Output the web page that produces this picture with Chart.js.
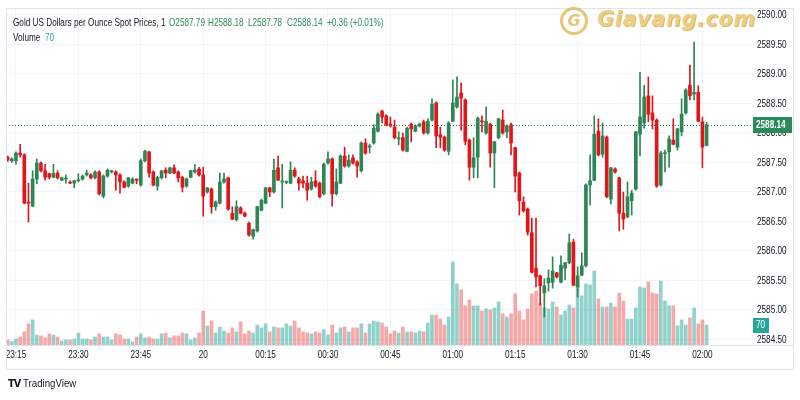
<!DOCTYPE html>
<html lang="en">
<head>
  <meta charset="UTF-8">
  <title>Gold US Dollars per Ounce Spot Prices, 1</title>
  <script src="https://cdn.jsdelivr.net/npm/chart.js"></script>
  <style>
    body { margin: 0; background: #fff; font-family: "Liberation Sans", sans-serif; }
    #wrap { position: relative; width: 800px; height: 400px; overflow: hidden; }
    #chart { position: absolute; left: 0; top: 0; }
    #frame { position: absolute; left: 6px; top: 8px; width: 788px; height: 362px; border: 1px solid #e0e3eb; box-sizing: border-box; pointer-events: none; }
    .txt { position: absolute; font-size: 10.5px; color: #131722; white-space: nowrap; line-height: 12px;
      transform: scaleX(0.78); transform-origin: 0 50%; }
    .up { color: #2e8b57; }
    .teal { color: #26a69a; }
    #logo { position: absolute; left: 560px; top: 6px; height: 30px; white-space: nowrap; opacity: .8; }
    #logo .coin { position: absolute; left: 0; top: 1px; width: 28px; height: 28px; border-radius: 50%; border: 3px solid #dfb950; box-sizing: border-box;
      font: italic bold 16px "DejaVu Sans", sans-serif; color: #dfb950; text-align: center; line-height: 22px; }
    #logo .brand { position: absolute; left: 37px; top: 1px; font: italic bold 21px "DejaVu Sans", sans-serif; color: #e8c466; letter-spacing: 0.5px;
      text-shadow: 1px 1px 0 #d6a63a; }
    #tv { position: absolute; left: 8px; top: 377px; font-size: 11px; color: #131722; white-space: nowrap; transform: scaleX(0.88); transform-origin: 0 50%; }
    #tv b { font-family: "DejaVu Sans", sans-serif; font-size: 11px; letter-spacing: -1px; margin-right: 3px; }
  </style>
</head>
<body>
<div id="wrap">
  <canvas id="chart" width="800" height="400"></canvas>
  <div id="frame"></div>

  <div class="txt" style="left:13px; top:16px;">Gold US Dollars per Ounce Spot Prices, 1</div>
  <div class="txt up" style="left:169px; top:16px;">O2587.79</div>
  <div class="txt up" style="left:208px; top:16px;">H2588.18</div>
  <div class="txt up" style="left:248px; top:16px;">L2587.78</div>
  <div class="txt up" style="left:287px; top:16px;">C2588.14</div>
  <div class="txt up" style="left:327px; top:16px;">+0.36 (+0.01%)</div>
  <div class="txt" style="left:13px; top:31px;">Volume</div>
  <div class="txt teal" style="left:45px; top:31px;">70</div>

  <div id="logo"><span class="coin">G</span><span class="brand">Giavang.com</span></div>
  <div id="tv"><b>TV</b>TradingView</div>
</div>

<script>
  // 1-minute candles, 23:13 -> 02:01
  const startTime = "23:13";
  const candleCount = 169;

  const opens = [
    2587.59, 2587.53, 2587.53, 2587.66, 2587.63, 2586.83, 2586.76,
    2587.22, 2587.49, 2587.36, 2587.31, 2587.25, 2587.32, 2587.20, 2587.22, 2587.17, 2587.15,
    2587.19, 2587.22, 2587.29, 2587.29, 2587.24, 2587.34, 2586.93, 2587.27, 2587.34, 2587.34,
    2587.29, 2587.17, 2587.10, 2587.15, 2587.22, 2587.12, 2587.53, 2587.68, 2587.34, 2587.10,
    2587.24, 2587.37, 2587.32, 2587.41, 2587.34, 2587.25, 2587.10, 2587.25, 2587.34, 2587.39,
    2587.29, 2587.00, 2587.05, 2586.75, 2586.81, 2587.17, 2587.24, 2586.64, 2586.53, 2586.73,
    2586.64, 2586.47, 2586.25, 2586.34, 2586.69, 2586.81, 2587.07, 2587.00, 2587.41, 2587.17,
    2587.16, 2587.15, 2587.37, 2587.22, 2587.19, 2587.15, 2587.05, 2587.19, 2587.15, 2586.97,
    2587.49, 2587.56, 2586.97, 2587.15, 2587.61, 2587.44, 2587.58, 2587.51, 2587.36, 2587.83,
    2587.76, 2587.83, 2588.03, 2588.37, 2588.29, 2588.15, 2588.10, 2587.90, 2587.92, 2587.69,
    2588.15, 2588.03, 2588.12, 2588.19, 2588.00, 2588.22, 2588.51, 2587.97, 2587.93, 2587.69,
    2588.20, 2588.44, 2588.68, 2588.56, 2587.88, 2587.42, 2587.59, 2588.20, 2588.00, 2588.15,
    2587.66, 2587.92, 2588.22, 2588.02, 2588.14, 2587.75, 2587.32, 2586.83, 2586.71, 2586.31,
    2585.71, 2585.58, 2585.29, 2585.46, 2585.47, 2585.63, 2585.47, 2585.71, 2585.80, 2586.15,
    2585.39, 2585.59, 2585.75, 2587.12, 2587.20, 2588.03, 2587.64, 2587.93, 2586.88, 2587.39,
    2587.24, 2586.64, 2586.58, 2586.85, 2587.05, 2587.98, 2588.17, 2588.63, 2588.34, 2588.22,
    2587.12, 2587.65, 2587.68, 2587.88, 2587.76, 2588.02, 2588.34, 2588.81, 2588.66, 2588.69,
    2588.19, 2587.79
  ];

  const highs = [
    2587.61, 2587.58, 2587.68, 2587.81, 2587.65, 2587.15, 2587.36,
    2587.56, 2587.51, 2587.47, 2587.32, 2587.47, 2587.36, 2587.25, 2587.29, 2587.19, 2587.20,
    2587.31, 2587.29, 2587.37, 2587.31, 2587.36, 2587.36, 2587.29, 2587.39, 2587.37, 2587.36,
    2587.31, 2587.19, 2587.25, 2587.24, 2587.22, 2587.56, 2587.71, 2587.69, 2587.36, 2587.27,
    2587.37, 2587.41, 2587.42, 2587.46, 2587.36, 2587.27, 2587.24, 2587.37, 2587.47, 2587.42,
    2587.42, 2587.08, 2587.07, 2586.85, 2587.32, 2587.32, 2587.25, 2586.75, 2586.85, 2586.75,
    2586.66, 2586.49, 2586.37, 2586.76, 2586.88, 2587.08, 2587.08, 2587.56, 2587.61, 2587.47,
    2587.19, 2587.51, 2587.41, 2587.25, 2587.27, 2587.27, 2587.25, 2587.36, 2587.17, 2587.49,
    2587.68, 2587.58, 2587.39, 2587.63, 2587.76, 2587.63, 2587.63, 2587.53, 2587.85, 2587.90,
    2587.81, 2588.14, 2588.34, 2588.39, 2588.31, 2588.27, 2588.22, 2588.02, 2588.00, 2588.10,
    2588.17, 2588.14, 2588.17, 2588.22, 2588.24, 2588.58, 2588.53, 2588.10, 2587.95, 2588.19,
    2588.90, 2588.95, 2588.85, 2588.58, 2587.90, 2587.92, 2588.27, 2588.29, 2588.44, 2588.17,
    2587.86, 2588.25, 2588.39, 2588.14, 2588.17, 2587.76, 2587.34, 2586.92, 2586.73, 2586.56,
    2586.56, 2585.59, 2585.53, 2585.68, 2585.90, 2585.64, 2585.92, 2585.81, 2586.29, 2586.20,
    2585.73, 2585.97, 2587.14, 2587.63, 2588.29, 2588.24, 2588.17, 2587.95, 2587.42, 2587.41,
    2587.25, 2587.00, 2587.17, 2587.03, 2588.03, 2589.03, 2588.81, 2588.95, 2588.63, 2588.24,
    2587.69, 2587.71, 2587.95, 2588.24, 2588.08, 2588.58, 2588.75, 2589.15, 2589.54, 2588.80,
    2588.27, 2588.18
  ];

  const lows = [
    2587.52, 2587.50, 2587.47, 2587.59, 2586.80, 2586.49, 2586.75,
    2587.14, 2587.34, 2587.20, 2587.22, 2587.24, 2587.22, 2587.19, 2587.15, 2587.14, 2587.07,
    2587.17, 2587.20, 2587.27, 2587.22, 2587.22, 2586.95, 2586.90, 2587.25, 2587.32, 2587.03,
    2586.98, 2587.07, 2587.08, 2587.14, 2587.14, 2587.10, 2587.51, 2587.25, 2587.10, 2587.03,
    2587.22, 2587.24, 2587.31, 2587.31, 2587.17, 2587.00, 2587.08, 2587.24, 2587.32, 2587.27,
    2586.59, 2586.98, 2586.64, 2586.69, 2586.80, 2587.15, 2586.69, 2586.53, 2586.51, 2586.63,
    2586.58, 2586.25, 2586.20, 2586.32, 2586.68, 2586.80, 2586.92, 2586.98, 2587.19, 2586.73,
    2587.14, 2587.14, 2587.25, 2587.03, 2587.07, 2586.86, 2587.03, 2587.08, 2586.90, 2586.95,
    2587.47, 2586.76, 2586.95, 2587.14, 2587.42, 2587.42, 2587.47, 2587.25, 2587.34, 2587.64,
    2587.66, 2587.81, 2588.02, 2588.17, 2588.12, 2588.10, 2587.90, 2587.80, 2587.69, 2587.68,
    2587.85, 2588.02, 2588.10, 2587.98, 2587.98, 2588.20, 2587.75, 2587.75, 2587.69, 2587.63,
    2588.19, 2588.42, 2588.05, 2587.80, 2587.20, 2587.24, 2587.24, 2588.02, 2587.98, 2587.42,
    2587.07, 2587.90, 2587.98, 2587.92, 2587.63, 2587.00, 2586.61, 2586.66, 2586.27, 2585.63,
    2585.39, 2585.08, 2584.88, 2585.32, 2585.37, 2585.54, 2585.46, 2585.51, 2585.78, 2585.41,
    2585.22, 2585.58, 2585.73, 2586.78, 2587.19, 2587.61, 2587.59, 2586.90, 2586.80, 2587.32,
    2586.34, 2586.37, 2586.56, 2586.61, 2587.03, 2587.61, 2588.08, 2588.19, 2588.07, 2587.08,
    2587.10, 2587.34, 2587.42, 2587.80, 2587.71, 2587.95, 2588.32, 2588.56, 2588.56, 2588.19,
    2587.41, 2587.78
  ];

  const closes = [
    2587.54, 2587.56, 2587.66, 2587.63, 2586.81, 2586.81, 2587.22,
    2587.49, 2587.36, 2587.25, 2587.25, 2587.32, 2587.24, 2587.24, 2587.23, 2587.15, 2587.19,
    2587.20, 2587.27, 2587.32, 2587.24, 2587.34, 2586.97, 2587.27, 2587.37, 2587.36, 2587.29,
    2587.17, 2587.08, 2587.24, 2587.22, 2587.20, 2587.53, 2587.69, 2587.32, 2587.12, 2587.25,
    2587.36, 2587.32, 2587.41, 2587.32, 2587.24, 2587.08, 2587.22, 2587.36, 2587.37, 2587.29,
    2586.93, 2587.07, 2586.75, 2586.83, 2587.17, 2587.22, 2586.71, 2586.54, 2586.75, 2586.64,
    2586.59, 2586.27, 2586.36, 2586.75, 2586.86, 2587.07, 2587.00, 2587.37, 2587.20, 2587.18,
    2587.17, 2587.37, 2587.27, 2587.15, 2587.15, 2587.03, 2587.17, 2587.10, 2586.92, 2587.47,
    2587.56, 2586.97, 2587.17, 2587.61, 2587.44, 2587.54, 2587.49, 2587.44, 2587.83, 2587.66,
    2587.78, 2588.08, 2588.32, 2588.27, 2588.14, 2588.12, 2587.92, 2587.92, 2587.71, 2588.08,
    2588.07, 2588.12, 2588.15, 2588.00, 2588.20, 2588.49, 2587.95, 2587.93, 2587.71, 2588.17,
    2588.51, 2588.61, 2588.59, 2587.86, 2587.42, 2587.58, 2588.25, 2588.19, 2588.20, 2587.66,
    2587.85, 2588.24, 2588.00, 2588.12, 2587.83, 2587.27, 2586.85, 2586.68, 2586.32, 2585.64,
    2585.56, 2585.41, 2585.41, 2585.54, 2585.66, 2585.56, 2585.76, 2585.80, 2586.14, 2585.42,
    2585.58, 2585.75, 2587.12, 2587.19, 2587.98, 2587.63, 2587.95, 2586.92, 2587.41, 2587.34,
    2586.64, 2586.54, 2586.92, 2586.98, 2588.02, 2588.27, 2588.61, 2588.32, 2588.22, 2587.10,
    2587.66, 2587.66, 2587.90, 2587.81, 2588.07, 2588.32, 2588.73, 2588.63, 2588.69, 2588.20,
    2587.76, 2588.14
  ];

  const volumes = [
    18, 12, 21, 28, 46, 74, 88,
    35, 32, 25, 39, 35, 28, 14, 18, 18, 21,
    42, 21, 21, 18, 28, 39, 28, 28, 18, 39,
    35, 21, 21, 11, 28, 39, 25, 28, 21, 21,
    39, 42, 25, 32, 32, 42, 39, 18, 25, 42,
    119, 67, 84, 42, 63, 49, 42, 60, 46, 81,
    39, 49, 42, 70, 60, 74, 46, 63, 60, 60,
    74, 67, 84, 60, 46, 42, 39, 46, 42, 53,
    35, 70, 42, 60, 63, 46, 60, 60, 74, 42,
    74, 84, 81, 77, 63, 39, 49, 42, 63, 46,
    46, 42, 49, 46, 77, 105, 105, 91, 70, 98,
    291, 214, 193, 137, 158, 137, 137, 119, 126, 123,
    130, 151, 109, 98, 109, 179, 119, 88, 126, 179,
    189, 147, 130, 126, 151, 133, 105, 119, 140, 130,
    214, 172, 214, 210, 259, 161, 133, 133, 147, 133,
    182, 154, 91, 91, 130, 203, 200, 221, 182, 179,
    224, 154, 137, 137, 67, 88, 70, 95, 130, 74,
    88, 70
  ];

  const priceTicks = { min: 2584.4067, max: 2590.1186, step: 0.5 };
  const timeTicks = { min: 12.6, max: 191.92, step: 15 };   // minutes after 23:00

  // minute labels for the candles
  const times = [];
  {
    let [h, m] = startTime.split(":").map(Number);
    for (let i = 0; i < candleCount; i++) {
      times.push(String(h).padStart(2, "0") + ":" + String(m).padStart(2, "0"));
      m++;
      if (m === 60) { m = 0; h = (h + 1) % 24; }
    }
  }
  const minuteOf = t => {
    const [h, m] = t.split(":").map(Number);
    return ((h + 1) % 24) * 60 + m;
  };
  const xs = times.map(minuteOf);

  const timeLabel = v => {
    const total = 23 * 60 + v;
    const h = Math.floor(total / 60) % 24, m = total % 60;
    if (h === 0 && m === 0) return "20";
    return String(h).padStart(2, "0") + ":" + String(m).padStart(2, "0");
  };

  const UP = "#2e8555", DOWN = "#e0161b";
  const VOL_UP = "rgba(38,166,154,0.5)", VOL_DOWN = "rgba(239,83,80,0.5)";
  const isUp = opens.map((o, i) => closes[i] >= o);
  const candleColors = isUp.map(u => u ? UP : DOWN);
  const volColors = isUp.map(u => u ? VOL_UP : VOL_DOWN);

  const lastClose = closes[closes.length - 1];
  const lastVol = volumes[volumes.length - 1];

  const FAMILY = "'Liberation Sans', Arial, sans-serif";
  const SQUEEZE = 0.82;

  function narrowText(ctx, s, x, y, align) {
    ctx.save();
    ctx.translate(x, y);
    ctx.scale(SQUEEZE, 1);
    ctx.textAlign = align;
    ctx.textBaseline = "middle";
    ctx.fillText(s, 0, 0);
    ctx.restore();
  }

  // axis labels (condensed), last price line and the price / volume boxes
  const axisDecor = {
    id: "axisDecor",
    afterDraw(chart) {
      const { ctx, chartArea, scales } = chart;
      ctx.save();
      ctx.font = "10px " + FAMILY;
      ctx.fillStyle = "#131722";
      scales.y.ticks.forEach(t => {
        narrowText(ctx, t.value.toFixed(2), chartArea.right + 5, scales.y.getPixelForValue(t.value) + 0.5, "left");
      });
      scales.x.ticks.forEach(t => {
        narrowText(ctx, timeLabel(t.value), scales.x.getPixelForValue(t.value), chartArea.bottom + 10.5, "center");
      });

      const y = Math.round(scales.y.getPixelForValue(lastClose)) + 0.5;
      ctx.strokeStyle = UP;
      ctx.lineWidth = 1;
      ctx.setLineDash([1, 2]);
      ctx.beginPath();
      ctx.moveTo(chartArea.left, y);
      ctx.lineTo(chartArea.right, y);
      ctx.stroke();
      ctx.setLineDash([]);

      ctx.strokeStyle = "#e0e3eb";
      ctx.beginPath();
      ctx.moveTo(6, chartArea.bottom + 0.5);
      ctx.lineTo(793, chartArea.bottom + 0.5);
      ctx.stroke();

      ctx.fillStyle = "#2a8a5a";
      ctx.fillRect(chartArea.right + 1, y - 8.5, 39, 16);
      ctx.fillStyle = "#fff";
      ctx.font = "bold 10px " + FAMILY;
      narrowText(ctx, lastClose.toFixed(2), chartArea.right + 4, y, "left");

      const yv = Math.round(scales.yv.getPixelForValue(lastVol)) + 0.5;
      ctx.fillStyle = "#26a69a";
      ctx.fillRect(chartArea.right + 1, yv - 7.5, 16, 15);
      ctx.fillStyle = "#fff";
      ctx.font = "10px " + FAMILY;
      narrowText(ctx, String(lastVol), chartArea.right + 4, yv, "left");
      ctx.restore();
    }
  };

  new Chart(document.getElementById("chart"), {
    type: "bar",
    data: {
      datasets: [
        {
          label: "body",
          data: xs.map((x, i) => ({ x, y: [opens[i], closes[i]] })),
          backgroundColor: candleColors,
          barThickness: 3,
          minBarLength: 1,
          grouped: false,
          yAxisID: "y"
        },
        {
          label: "wick",
          data: xs.map((x, i) => ({ x, y: [lows[i], highs[i]] })),
          backgroundColor: candleColors,
          barThickness: 1,
          grouped: false,
          yAxisID: "y"
        },
        {
          label: "Volume",
          data: xs.map((x, i) => ({ x, y: volumes[i] })),
          backgroundColor: volColors,
          barThickness: 3,
          grouped: false,
          yAxisID: "yv"
        }
      ]
    },
    options: {
      responsive: false,
      animation: false,
      layout: { padding: { left: 6, top: 8, right: 7, bottom: 31 } },
      plugins: { legend: { display: false }, tooltip: { enabled: false } },
      scales: {
        x: {
          type: "linear",
          offset: false,
          min: timeTicks.min,
          max: timeTicks.max,
          afterFit(s) { s.height = 24; },
          grid: { color: "#f0f3fa", drawTicks: false, offset: false },
          border: { display: false },
          ticks: { display: false, stepSize: timeTicks.step, includeBounds: false, autoSkip: false }
        },
        y: {
          position: "right",
          min: priceTicks.min,
          max: priceTicks.max,
          afterFit(s) { s.width = 41; },
          grid: { color: "#f0f3fa", drawTicks: false },
          border: { display: false },
          ticks: { display: false, stepSize: priceTicks.step, includeBounds: false }
        },
        yv: {
          display: false,
          min: 0,
          max: 1180
        }
      }
    },
    plugins: [axisDecor]
  });
</script>
</body>
</html>
